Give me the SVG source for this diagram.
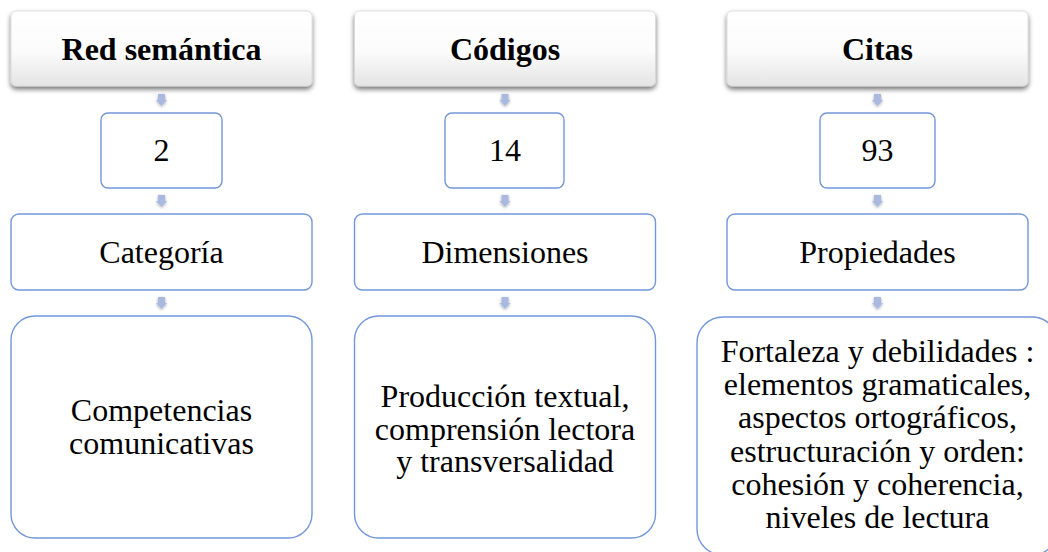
<svg xmlns="http://www.w3.org/2000/svg" width="1048" height="552" viewBox="0 0 1048 552">
<style>
.hdr{fill:url(#hg);stroke:#d6d6d6;stroke-width:0.8;filter:url(#sh)}
.box{fill:#ffffff;stroke:#7397d8;stroke-width:1.4}
.ht{font-family:"Liberation Serif","Times New Roman",serif;font-size:32px;font-weight:bold;fill:#000;text-anchor:middle}
.t{font-family:"Liberation Serif","Times New Roman",serif;font-size:32px;fill:#000;text-anchor:middle}
.arr{fill:#a9b9e0;filter:url(#ash)}
</style>
<defs>
<linearGradient id="hg" x1="0" y1="0" x2="0" y2="1">
<stop offset="0" stop-color="#ffffff"/>
<stop offset="0.55" stop-color="#fbfbfb"/>
<stop offset="1" stop-color="#e4e4e4"/>
</linearGradient>
<filter id="sh" x="-5%" y="-10%" width="110%" height="130%">
<feGaussianBlur in="SourceAlpha" stdDeviation="2.5"/>
<feOffset dx="0" dy="3" result="b"/>
<feComponentTransfer><feFuncA type="linear" slope="0.55"/></feComponentTransfer>
<feMerge><feMergeNode/><feMergeNode in="SourceGraphic"/></feMerge>
</filter>
<filter id="ash" x="-60%" y="-60%" width="220%" height="220%">
<feGaussianBlur in="SourceAlpha" stdDeviation="1.5"/>
<feOffset dx="0" dy="1"/>
<feComponentTransfer><feFuncA type="linear" slope="0.35"/></feComponentTransfer>
<feMerge><feMergeNode/><feMergeNode in="SourceGraphic"/></feMerge>
</filter>
<path id="a" d="M-3.5,0 H3.5 V6 H5.5 L0,12 L-5.5,6 H-3.5 Z"/>
</defs>

<g id="connectors">
<use href="#a" class="arr" x="161.5" y="94"/>
<use href="#a" class="arr" x="161.5" y="195"/>
<use href="#a" class="arr" x="161.5" y="297"/>
<use href="#a" class="arr" x="505" y="94"/>
<use href="#a" class="arr" x="505" y="195"/>
<use href="#a" class="arr" x="505" y="297"/>
<use href="#a" class="arr" x="877.5" y="94"/>
<use href="#a" class="arr" x="877.5" y="195"/>
<use href="#a" class="arr" x="877.5" y="297"/>
</g>

<g id="h1"><rect class="hdr" x="11" y="11" width="301" height="75" rx="5"/><text class="ht" x="161.5" y="60">Red semántica</text></g>
<g id="h2"><rect class="hdr" x="354.5" y="11" width="301" height="75" rx="5"/><text class="ht" x="505" y="60">Códigos</text></g>
<g id="h3"><rect class="hdr" x="727" y="11" width="301" height="75" rx="5"/><text class="ht" x="877.5" y="60">Citas</text></g>

<g id="n1"><rect class="box" x="101" y="113" width="121" height="75" rx="7"/><text class="t" x="161.5" y="161">2</text></g>
<g id="n2"><rect class="box" x="445" y="113" width="119" height="75" rx="7"/><text class="t" x="505" y="161">14</text></g>
<g id="n3"><rect class="box" x="820" y="113" width="115" height="75" rx="7"/><text class="t" x="877.5" y="161">93</text></g>

<g id="c1"><rect class="box" x="11" y="214" width="301" height="76" rx="8"/><text class="t" x="161.5" y="263">Categoría</text></g>
<g id="c2"><rect class="box" x="354.5" y="214" width="301" height="76" rx="8"/><text class="t" x="505" y="263">Dimensiones</text></g>
<g id="c3"><rect class="box" x="727" y="214" width="301" height="76" rx="8"/><text class="t" x="877.5" y="263">Propiedades</text></g>

<g id="b1"><rect class="box" x="11" y="316" width="301" height="222" rx="24"/>
<text class="t" x="161.5" y="420.5">Competencias</text>
<text class="t" x="161.5" y="453.5">comunicativas</text></g>
<g id="b2"><rect class="box" x="354.5" y="316" width="301" height="222" rx="24"/>
<text class="t" x="505" y="407">Producción textual,</text>
<text class="t" x="505" y="439.5">comprensión lectora</text>
<text class="t" x="505" y="472">y transversalidad</text></g>
<g id="b3"><rect class="box" x="697" y="317" width="361" height="238" rx="26"/>
<text class="t" x="877.5" y="362">Fortaleza y debilidades :</text>
<text class="t" x="877.5" y="395">elementos gramaticales,</text>
<text class="t" x="877.5" y="428">aspectos ortográficos,</text>
<text class="t" x="877.5" y="462">estructuración y orden:</text>
<text class="t" x="877.5" y="495">cohesión y coherencia,</text>
<text class="t" x="877.5" y="528">niveles de lectura</text></g>
</svg>
